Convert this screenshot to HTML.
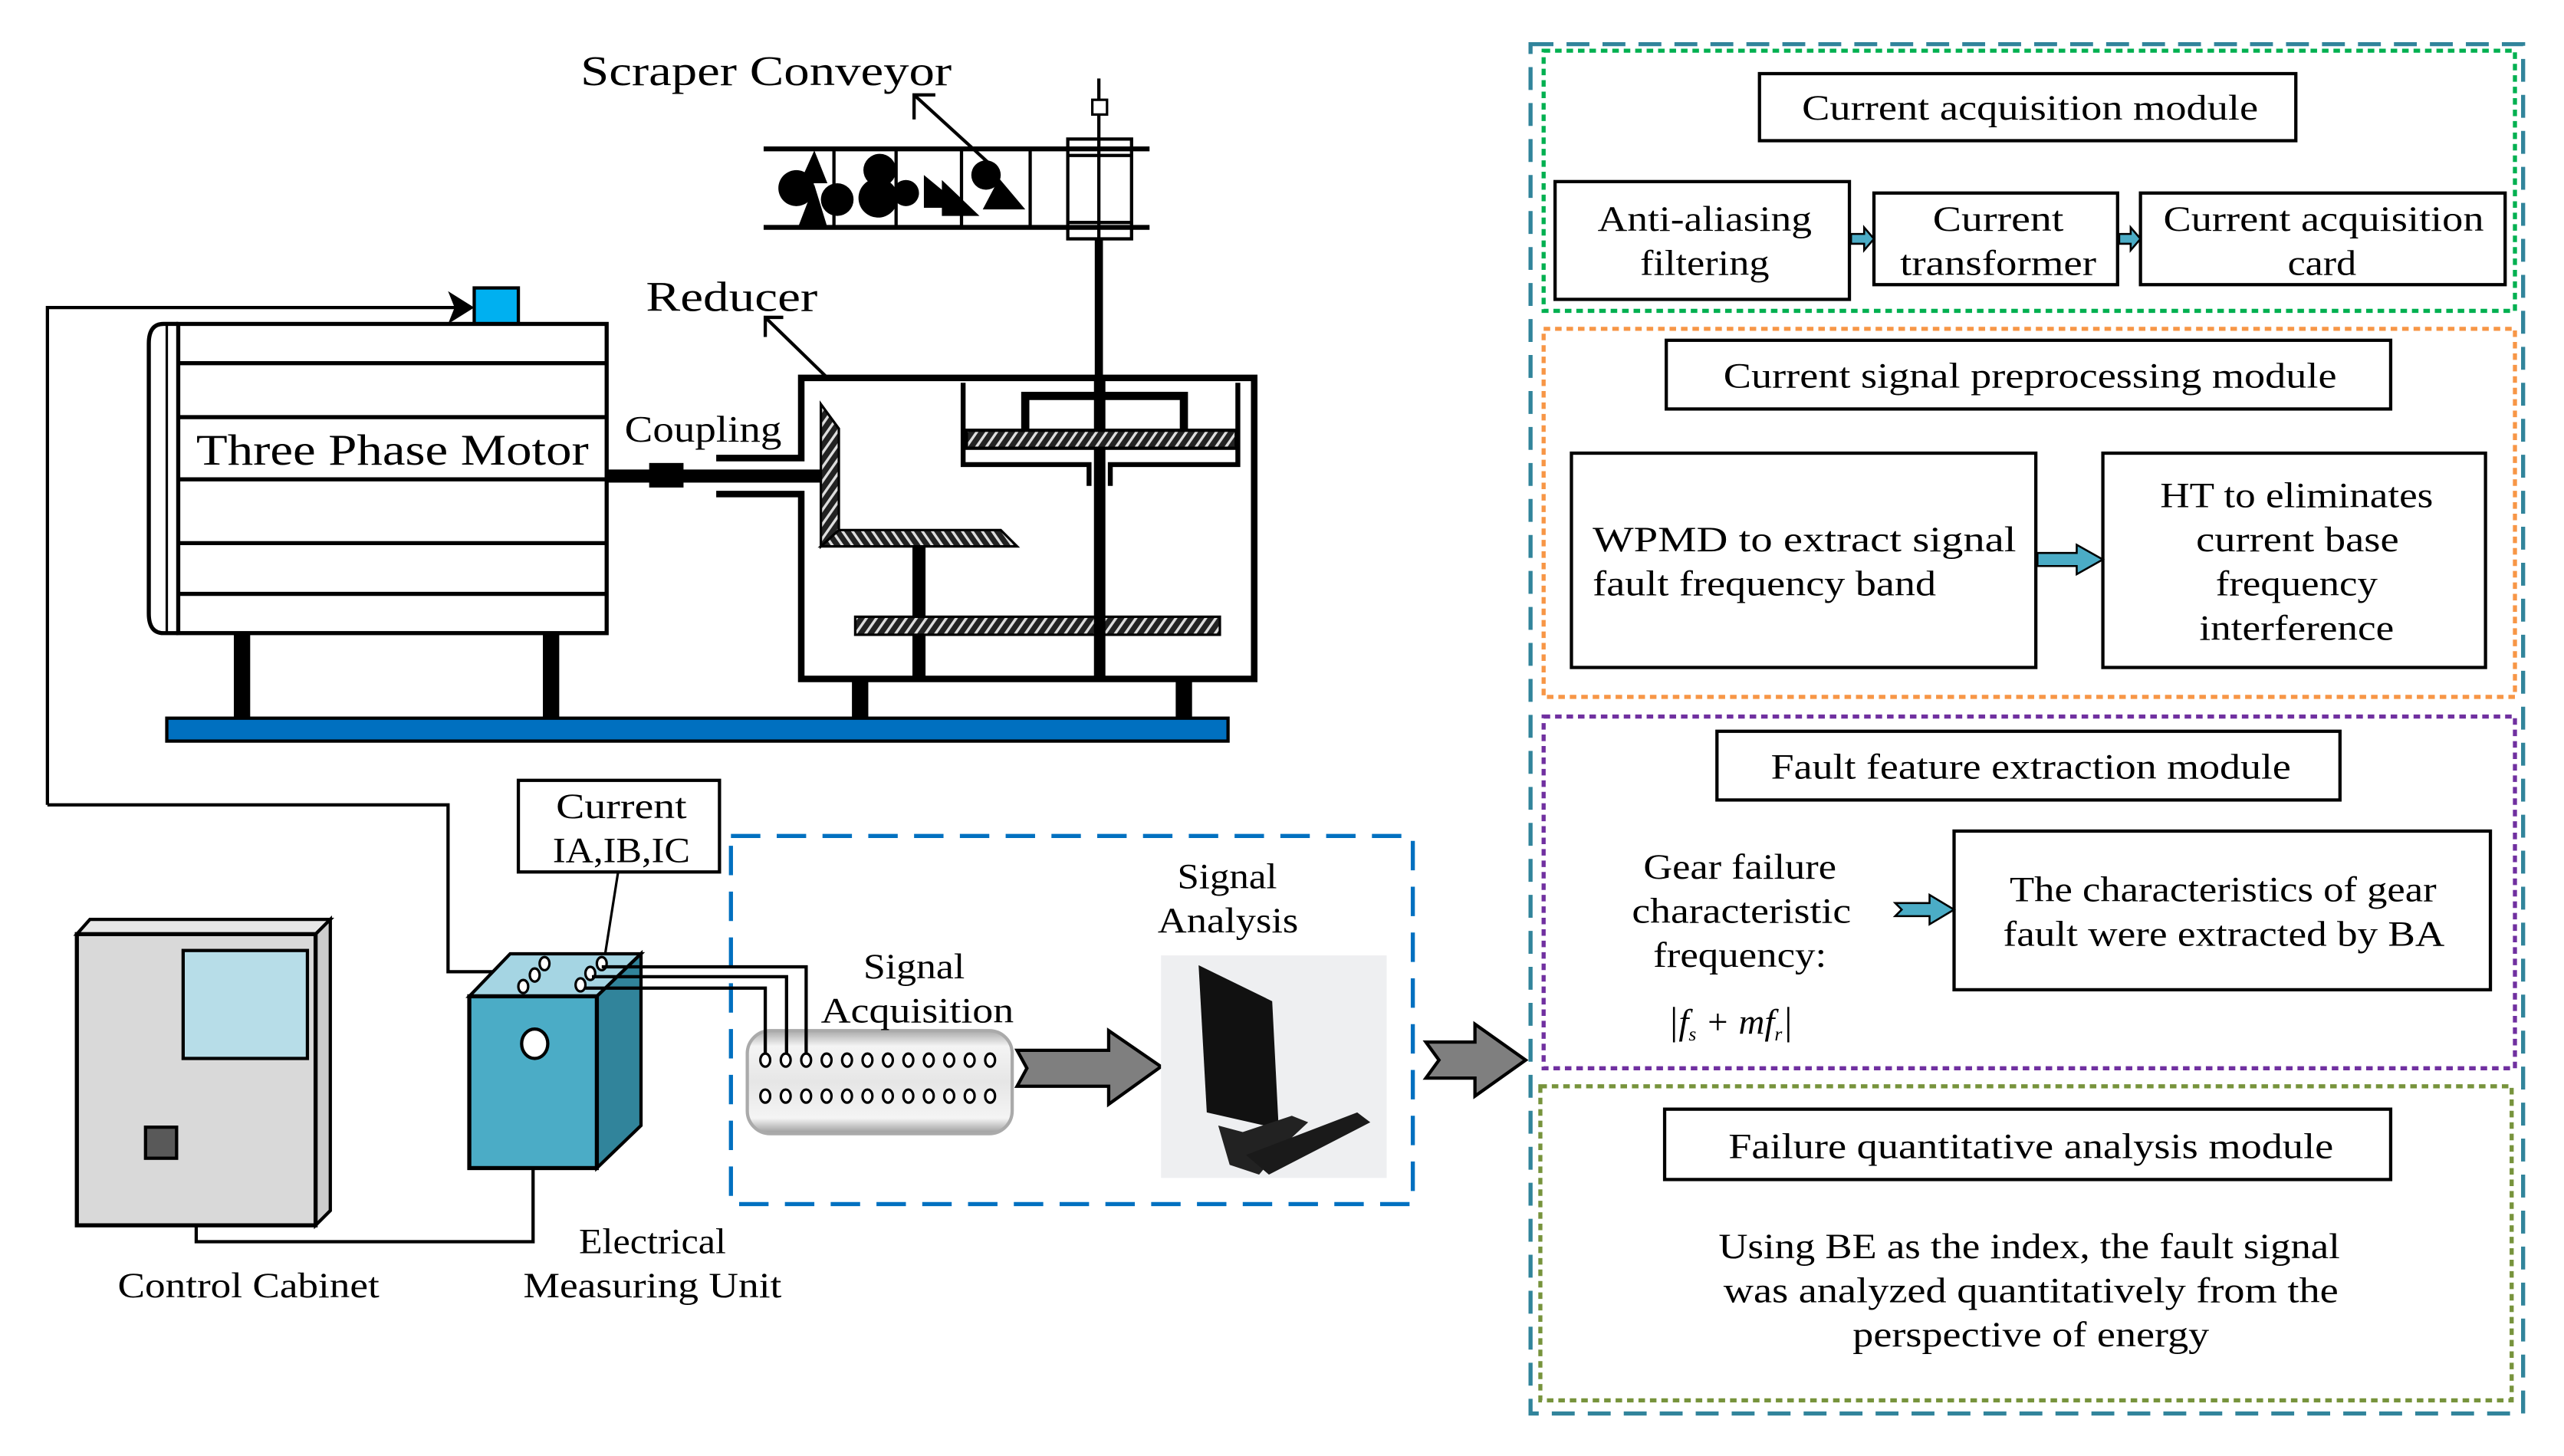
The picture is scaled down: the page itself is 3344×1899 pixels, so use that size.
<!DOCTYPE html>
<html><head><meta charset="utf-8"><style>
html,body{margin:0;padding:0;background:#fff;width:3344px;height:1899px;overflow:hidden}
svg{display:block}
text{font-family:"Liberation Serif",serif;fill:#000}
</style></head><body>
<svg width="3344" height="1899" viewBox="0 0 1568 890" preserveAspectRatio="none" xmlns="http://www.w3.org/2000/svg">
<defs>
<pattern id="hr" width="5" height="5" patternUnits="userSpaceOnUse" patternTransform="rotate(35)">
<rect width="5" height="5" fill="#222"/><rect width="1.6" height="5" fill="#ddd"/></pattern>
<pattern id="hl" width="5" height="5" patternUnits="userSpaceOnUse" patternTransform="rotate(-35)">
<rect width="5" height="5" fill="#222"/><rect width="1.6" height="5" fill="#ddd"/></pattern>
<linearGradient id="cg" x1="0" y1="0" x2="0" y2="1">
<stop offset="0" stop-color="#aaa"/><stop offset="0.15" stop-color="#f4f4f4"/><stop offset="0.5" stop-color="#e6e6e6"/><stop offset="0.85" stop-color="#f4f4f4"/><stop offset="1" stop-color="#999"/></linearGradient>
</defs>

<!-- Scraper conveyor -->
<text x="355" y="52" font-size="26" textLength="227" lengthAdjust="spacingAndGlyphs">Scraper Conveyor</text>
<polyline points="572,58 559,58 559,73" fill="none" stroke="#000" stroke-width="2"/>
<line x1="559" y1="58" x2="605" y2="100" stroke="#000" stroke-width="2"/>
<line x1="467" y1="91" x2="703" y2="91" stroke="#000" stroke-width="3"/>
<line x1="467" y1="139" x2="703" y2="139" stroke="#000" stroke-width="3"/>
<g stroke="#000" stroke-width="2"><line x1="510" y1="91" x2="510" y2="139"/><line x1="548" y1="91" x2="548" y2="139"/><line x1="588" y1="91" x2="588" y2="139"/><line x1="630" y1="91" x2="630" y2="139"/></g>
<g fill="#000">
<circle cx="487" cy="115" r="11"/><polygon points="498,92 489,112 506,112"/><polygon points="498,113 488,139 506,139"/><circle cx="512" cy="122" r="10"/>
<circle cx="538" cy="104" r="10"/><circle cx="537" cy="121" r="12"/><circle cx="554" cy="118" r="8"/>
<polygon points="565,107 565,127 582,127 582,121"/><polygon points="576,110 576,132 599,132"/><circle cx="603" cy="107" r="9"/><polygon points="611,109 601,128 627,128"/></g>
<rect x="653" y="85" width="39" height="61" fill="none" stroke="#000" stroke-width="2"/>
<line x1="653" y1="95" x2="692" y2="95" stroke="#000" stroke-width="2"/>
<line x1="653" y1="136" x2="692" y2="136" stroke="#000" stroke-width="2"/>
<line x1="672" y1="48" x2="672" y2="146" stroke="#000" stroke-width="2"/>
<rect x="668" y="61" width="9" height="9" fill="#fff" stroke="#000" stroke-width="1.5"/>
<line x1="672" y1="146" x2="672" y2="232" stroke="#000" stroke-width="5"/>

<!-- Motor -->
<rect x="290" y="176" width="27" height="22" fill="#00b0f0" stroke="#000" stroke-width="2"/>
<polyline points="29,492 29,188 280,188" fill="none" stroke="#000" stroke-width="2"/>
<polygon points="290,188 274,178 278,188 274,198" fill="#000"/>
<path d="M109,198 L100,198 Q91,198 91,210 L91,375 Q91,387 100,387 L109,387" fill="none" stroke="#000" stroke-width="2.5"/>
<line x1="102" y1="198" x2="102" y2="387" stroke="#000" stroke-width="1.5"/>
<rect x="109" y="198" width="262" height="189" fill="#fff" stroke="#000" stroke-width="2.5"/>
<g stroke="#000" stroke-width="2.5"><line x1="109" y1="222" x2="371" y2="222"/><line x1="109" y1="255" x2="371" y2="255"/><line x1="109" y1="293" x2="371" y2="293"/><line x1="109" y1="332" x2="371" y2="332"/><line x1="109" y1="363" x2="371" y2="363"/></g>
<text x="120" y="284" font-size="27" textLength="240" lengthAdjust="spacingAndGlyphs">Three Phase Motor</text>
<rect x="143" y="387" width="10" height="53" fill="#000"/><rect x="332" y="387" width="10" height="53" fill="#000"/>
<rect x="521" y="415" width="10" height="25" fill="#000"/><rect x="719" y="415" width="10" height="25" fill="#000"/>
<rect x="102" y="439" width="649" height="14" fill="#0070c0" stroke="#000" stroke-width="2"/>

<!-- Coupling / shaft -->
<text x="382" y="270" font-size="23" textLength="96" lengthAdjust="spacingAndGlyphs">Coupling</text>
<rect x="371" y="287" width="131" height="8" fill="#000"/>
<rect x="397" y="283" width="21" height="15" fill="#000"/>
<polyline points="438,280 490,280 490,231 767,231 767,415 490,415 490,302 438,302" fill="none" stroke="#000" stroke-width="4"/>
<!-- Reducer -->
<text x="395" y="190" font-size="26" textLength="105" lengthAdjust="spacingAndGlyphs">Reducer</text>
<polyline points="479,194 468,194 468,206" fill="none" stroke="#000" stroke-width="2"/>
<line x1="468" y1="194" x2="505" y2="230" stroke="#000" stroke-width="2"/>
<!-- bevel gears -->
<polygon points="502,247 513,262 513,324 502,334" fill="url(#hr)" stroke="#000" stroke-width="1.5"/>
<polygon points="502,334 513,324 612,324 622,334" fill="url(#hl)" stroke="#000" stroke-width="1.5"/>
<rect x="558" y="334" width="8" height="81" fill="#000"/>
<rect x="523" y="377" width="223" height="11" fill="url(#hr)" stroke="#000" stroke-width="1.5"/>
<!-- right shaft structure -->
<rect x="669" y="232" width="7" height="183" fill="#000"/>
<polyline points="589,234 589,284 666,284 666,297" fill="none" stroke="#000" stroke-width="3"/>
<polyline points="757,234 757,284 679,284 679,297" fill="none" stroke="#000" stroke-width="3"/>
<polyline points="627,263 627,242 724,242 724,263" fill="none" stroke="#000" stroke-width="5"/>
<rect x="591" y="263" width="165" height="11" fill="url(#hr)" stroke="#000" stroke-width="2"/>

<!-- Bottom: connections -->
<polyline points="29,492 274,492 274,594 302,594" fill="none" stroke="#000" stroke-width="2"/>
<polyline points="120,749 120,759 326,759 326,713" fill="none" stroke="#000" stroke-width="2"/>
<rect x="317" y="477" width="123" height="56" fill="#fff" stroke="#000" stroke-width="2"/>
<text x="340" y="500" font-size="22" textLength="80" lengthAdjust="spacingAndGlyphs">Current</text>
<text x="338" y="527" font-size="22" textLength="84" lengthAdjust="spacingAndGlyphs">IA,IB,IC</text>
<line x1="378" y1="533" x2="369" y2="590" stroke="#000" stroke-width="1.5"/>

<!-- Control cabinet -->
<polygon points="47,571 55,562 202,562 193,571" fill="#e8e8e8" stroke="#000" stroke-width="2"/>
<polygon points="193,571 202,562 202,740 193,749" fill="#ccc" stroke="#000" stroke-width="2"/>
<rect x="47" y="571" width="146" height="178" fill="#d9d9d9" stroke="#000" stroke-width="2.5"/>
<rect x="112" y="581" width="76" height="66" fill="#b7dde8" stroke="#000" stroke-width="2"/>
<rect x="89" y="689" width="19" height="19" fill="#595959" stroke="#000" stroke-width="2"/>
<text x="72" y="793" font-size="22" textLength="160" lengthAdjust="spacingAndGlyphs">Control Cabinet</text>

<!-- Measuring unit -->
<polygon points="287,609 312,583 392,583 365,609" fill="#a5d5e3" stroke="#000" stroke-width="2"/>
<polygon points="365,609 392,583 392,688 365,714" fill="#31849b" stroke="#000" stroke-width="2"/>
<rect x="287" y="609" width="78" height="105" fill="#4bacc6" stroke="#000" stroke-width="2.5"/>
<ellipse cx="327" cy="638" rx="8" ry="9" fill="#fff" stroke="#000" stroke-width="2"/>
<g fill="#fff" stroke="#000" stroke-width="1.5"><ellipse cx="320" cy="603" rx="3" ry="4"/><ellipse cx="327" cy="596" rx="3" ry="4"/><ellipse cx="333" cy="589" rx="3" ry="4"/><ellipse cx="355" cy="602" rx="3" ry="4"/><ellipse cx="361" cy="595" rx="3" ry="4"/><ellipse cx="368" cy="589" rx="3" ry="4"/></g>
<text x="354" y="766" font-size="22" textLength="90" lengthAdjust="spacingAndGlyphs">Electrical</text>
<text x="320" y="793" font-size="22" textLength="158" lengthAdjust="spacingAndGlyphs">Measuring Unit</text>

<!-- Dashed blue box -->
<rect x="447" y="511" width="417" height="225" fill="none" stroke="#0070c0" stroke-width="2.5" stroke-dasharray="18,10"/>
<!-- connector -->
<rect x="457" y="630" width="162" height="63" rx="14" fill="url(#cg)" stroke="#aaa" stroke-width="2"/>
<g fill="#fff" stroke="#000" stroke-width="1.5">
<ellipse cx="468" cy="648" rx="3" ry="4"/><ellipse cx="480.5" cy="648" rx="3" ry="4"/><ellipse cx="493" cy="648" rx="3" ry="4"/><ellipse cx="505.5" cy="648" rx="3" ry="4"/><ellipse cx="518" cy="648" rx="3" ry="4"/><ellipse cx="530.5" cy="648" rx="3" ry="4"/><ellipse cx="543" cy="648" rx="3" ry="4"/><ellipse cx="555.5" cy="648" rx="3" ry="4"/><ellipse cx="568" cy="648" rx="3" ry="4"/><ellipse cx="580.5" cy="648" rx="3" ry="4"/><ellipse cx="593" cy="648" rx="3" ry="4"/><ellipse cx="605.5" cy="648" rx="3" ry="4"/>
<ellipse cx="468" cy="670" rx="3" ry="4"/><ellipse cx="480.5" cy="670" rx="3" ry="4"/><ellipse cx="493" cy="670" rx="3" ry="4"/><ellipse cx="505.5" cy="670" rx="3" ry="4"/><ellipse cx="518" cy="670" rx="3" ry="4"/><ellipse cx="530.5" cy="670" rx="3" ry="4"/><ellipse cx="543" cy="670" rx="3" ry="4"/><ellipse cx="555.5" cy="670" rx="3" ry="4"/><ellipse cx="568" cy="670" rx="3" ry="4"/><ellipse cx="580.5" cy="670" rx="3" ry="4"/><ellipse cx="593" cy="670" rx="3" ry="4"/><ellipse cx="605.5" cy="670" rx="3" ry="4"/></g>
<g fill="none" stroke="#000" stroke-width="2">
<polyline points="368,591 493,591 493,644"/><polyline points="362,597 481,597 481,644"/><polyline points="358,604 468,604 468,644"/></g>
<text x="528" y="598" font-size="22" textLength="62" lengthAdjust="spacingAndGlyphs">Signal</text>
<text x="502" y="625" font-size="22" textLength="118" lengthAdjust="spacingAndGlyphs">Acquisition</text>
<polygon points="622,642 678,642 678,630 710,652 678,675 678,664 622,664 628,653" fill="#7f7f7f" stroke="#000" stroke-width="2"/>
<!-- computer -->
<rect x="710" y="584" width="138" height="136" fill="#eeeff1"/>
<polygon points="733,590 778,612 782,690 738,680" fill="#111"/>
<polygon points="745,688 760,692 790,682 800,686 785,700 770,718 752,712" fill="#222"/>
<polygon points="762,706 830,680 838,686 776,718" fill="#1a1a1a"/>
<text x="720" y="543" font-size="22" textLength="61" lengthAdjust="spacingAndGlyphs">Signal</text>
<text x="708" y="570" font-size="22" textLength="86" lengthAdjust="spacingAndGlyphs">Analysis</text>
<polygon points="872,637 902,637 902,626 933,648 902,670 902,659 872,659 880,648" fill="#7f7f7f" stroke="#000" stroke-width="2"/>

<!-- Right panel -->
<rect x="936" y="27" width="607" height="837" fill="none" stroke="#31849b" stroke-width="2.5" stroke-dasharray="14,8"/>
<rect x="944" y="31" width="594" height="159" fill="none" stroke="#00b050" stroke-width="2.5" stroke-dasharray="4,3"/>
<rect x="944" y="201" width="594" height="225" fill="none" stroke="#f79646" stroke-width="2.5" stroke-dasharray="4,3"/>
<rect x="944" y="438" width="594" height="215" fill="none" stroke="#7030a0" stroke-width="2.5" stroke-dasharray="4,3"/>
<rect x="942" y="664" width="594" height="192" fill="none" stroke="#77933c" stroke-width="2.5" stroke-dasharray="4,3"/>

<g fill="#fff" stroke="#000" stroke-width="2">
<rect x="1076" y="45" width="328" height="41"/>
<rect x="951" y="111" width="180" height="72"/>
<rect x="1146" y="118" width="149" height="56"/>
<rect x="1309" y="118" width="223" height="56"/>
<rect x="1019" y="208" width="443" height="42"/>
<rect x="961" y="277" width="284" height="131"/>
<rect x="1286" y="277" width="234" height="131"/>
<rect x="1050" y="447" width="381" height="42"/>
<rect x="1195" y="508" width="328" height="97"/>
<rect x="1018" y="678" width="444" height="43"/>
</g>
<g fill="#4bacc6" stroke="#000" stroke-width="1.2">
<polygon points="1132,143 1140,143 1140,139 1146,146 1140,153 1140,149 1132,149"/>
<polygon points="1296,143 1303,143 1303,139 1309,146 1303,153 1303,149 1296,149"/>
<polygon points="1246,338 1270,338 1270,333 1286,342 1270,351 1270,346 1246,346"/>
<polygon points="1159,552 1180,552 1180,547 1195,556 1180,565 1180,560 1159,560 1163,556"/>
</g>
<g font-size="22" lengthAdjust="spacingAndGlyphs">
<text x="1102" y="73" textLength="279" lengthAdjust="spacingAndGlyphs">Current acquisition module</text>
<text x="977" y="141" textLength="131" lengthAdjust="spacingAndGlyphs">Anti-aliasing</text>
<text x="1003" y="168" textLength="79" lengthAdjust="spacingAndGlyphs">filtering</text>
<text x="1182" y="141" textLength="80" lengthAdjust="spacingAndGlyphs">Current</text>
<text x="1162" y="168" textLength="120" lengthAdjust="spacingAndGlyphs">transformer</text>
<text x="1323" y="141" textLength="196" lengthAdjust="spacingAndGlyphs">Current acquisition</text>
<text x="1399" y="168" textLength="42" lengthAdjust="spacingAndGlyphs">card</text>
<text x="1054" y="237" textLength="375" lengthAdjust="spacingAndGlyphs">Current signal preprocessing module</text>
<text x="974" y="337" textLength="259" lengthAdjust="spacingAndGlyphs">WPMD  to extract signal</text>
<text x="974" y="364" textLength="210" lengthAdjust="spacingAndGlyphs">fault frequency band</text>
<text x="1321" y="310" textLength="167" lengthAdjust="spacingAndGlyphs">HT to eliminates</text>
<text x="1343" y="337" textLength="124" lengthAdjust="spacingAndGlyphs">current base</text>
<text x="1355" y="364" textLength="99" lengthAdjust="spacingAndGlyphs">frequency</text>
<text x="1345" y="391" textLength="119" lengthAdjust="spacingAndGlyphs">interference</text>
<text x="1083" y="476" textLength="318" lengthAdjust="spacingAndGlyphs">Fault feature extraction module</text>
<text x="1005" y="537" textLength="118" lengthAdjust="spacingAndGlyphs">Gear failure</text>
<text x="998" y="564" textLength="134" lengthAdjust="spacingAndGlyphs">characteristic</text>
<text x="1011" y="591" textLength="106" lengthAdjust="spacingAndGlyphs">frequency:</text>
<text x="1229" y="551" textLength="261" lengthAdjust="spacingAndGlyphs">The characteristics of gear</text>
<text x="1225" y="578" textLength="270" lengthAdjust="spacingAndGlyphs">fault were extracted by BA</text>
<text x="1057" y="708" textLength="370" lengthAdjust="spacingAndGlyphs">Failure quantitative analysis module</text>
<text x="1051" y="769" textLength="380" lengthAdjust="spacingAndGlyphs">Using BE as the index, the fault signal</text>
<text x="1054" y="796" textLength="376" lengthAdjust="spacingAndGlyphs">was analyzed quantitatively from the</text>
<text x="1133" y="823" textLength="218" lengthAdjust="spacingAndGlyphs">perspective of energy</text>
</g>
<text x="1020" y="632" font-size="24" font-style="italic">|<tspan font-size="22">f</tspan><tspan font-size="12" dy="4">s</tspan><tspan dy="-4" font-size="22"> + </tspan><tspan font-size="22">mf</tspan><tspan font-size="12" dy="4">r</tspan><tspan dy="-4">|</tspan></text>
</svg>
</body></html>
